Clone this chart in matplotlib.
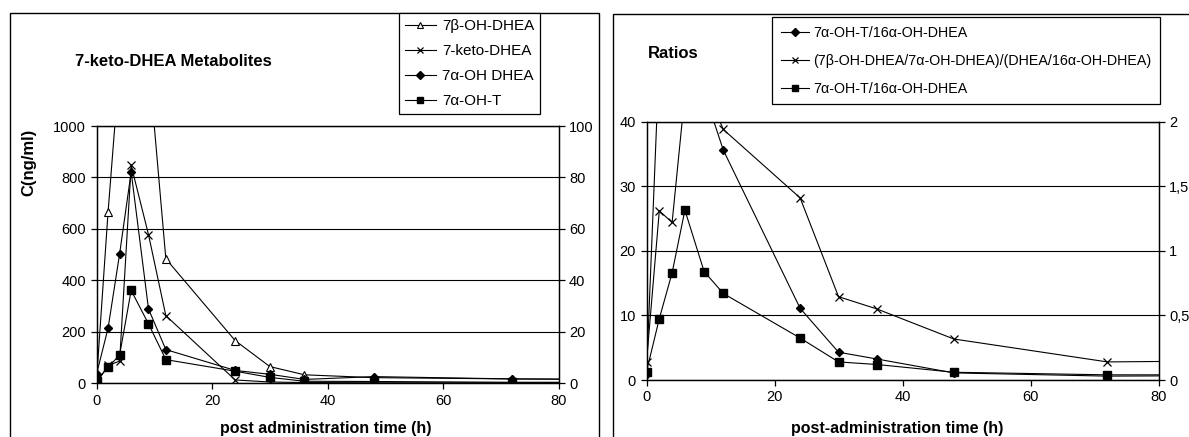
"""
7-keto-DHEA 代谢物浓度与比值随给药后时间的变化（两张Excel风格折线图）。
"""

import matplotlib.pyplot as plt
from matplotlib.patches import Rectangle

plt.rcParams['font.family'] = ['Liberation Sans', 'DejaVu Sans']

# 采样时间 (h)，最后一个点在80h以外，只用来画出延伸到右边界的线段
t = [0, 2, 4, 6, 9, 12, 24, 30, 36, 48, 72, 96]

# 左图：代谢物浓度 C(ng/ml)
b7_oh_dhea = [10, 665, 1238, 1800, 1258, 484, 166, 65, 33, 22, 17, 15]
keto_dhea = [0, 70, 86, 847, 578, 263, 13, 5, 3, 2, 2, 2]
a7_oh_dhea = [35, 214, 503, 821, 289, 131, 50, 35, 15, 26, 17, 14]
a7_oh_t = [10, 62, 110, 361, 231, 92, 47, 23, 8, 7, 4, 4]
left_names = ['7β-OH-DHEA', '7-keto-DHEA', '7α-OH DHEA', '7α-OH-T']

# 右图：比值
ratio_diamond = [1, 50, 80, 100, 44.6, 35.6, 11.1, 4.3, 3.25, 1.1, 0.6, 0.7]
ratio_cross = [2.8, 26.2, 24.4, 44.3, 45.7, 38.8, 28.2, 12.9, 11.0, 6.35, 2.8, 3.0]
ratio_square = [1.3, 9.5, 16.6, 26.3, 16.8, 13.4, 6.5, 2.8, 2.4, 1.2, 0.8, 0.8]
right_names = ['7α-OH-T/16α-OH-DHEA',
               '(7β-OH-DHEA/7α-OH-DHEA)/(DHEA/16α-OH-DHEA)',
               '7α-OH-T/16α-OH-DHEA']
right2_ticks = [0, 0.5, 1, 1.5, 2]
right2_labels = ['0', '0,5', '1', '1,5', '2']

W, H = 1189, 437
fig = plt.figure(figsize=(W / 100, H / 100), dpi=100)


def px(x0, y0, x1, y1):
    # 像素坐标(左上原点) -> figure 坐标 [left, bottom, width, height]
    return [x0 / W, 1 - y1 / H, (x1 - x0) / W, (y1 - y0) / H]


def frame(x0, y0, x1, y1):
    r = Rectangle((x0 / W, 1 - y1 / H), (x1 - x0) / W, (y1 - y0) / H,
                  transform=fig.transFigure, fill=False, lw=1.0,
                  edgecolor='black')
    fig.add_artist(r)


def style(ax):
    for s in ax.spines.values():
        s.set_linewidth(0.9)
        s.set_color('black')
    ax.tick_params(direction='out', length=4, width=0.9, labelsize=10.5,
                   colors='black', pad=3.5)
    ax.grid(axis='y', color='black', lw=0.8)
    ax.set_axisbelow(False)


line_kw = dict(color='black', lw=0.8)

# 两张图的外框
frame(10, 13, 599, 460)
frame(613, 14, 1200, 460)

# 左图
ax1 = fig.add_axes(px(96.5, 126, 558.7, 383.3))
ax1.plot(t, b7_oh_dhea, marker='^', ms=5.5, mfc='white', mec='black',
         mew=0.8, label=left_names[0], **line_kw)
ax1.plot(t, keto_dhea, marker='x', ms=6, mew=0.9, label=left_names[1],
         **line_kw)
ax1.plot(t, a7_oh_dhea, marker='D', ms=4.5, mfc='black', mec='black',
         label=left_names[2], **line_kw)
ax1.plot(t, a7_oh_t, marker='s', ms=5.5, mfc='black', mec='black',
         label=left_names[3], **line_kw)
ax1.set_xlim(0, 80)
ax1.set_ylim(0, 1000)
ax1.set_xticks([0, 20, 40, 60, 80])
ax1.set_yticks([0, 200, 400, 600, 800, 1000])
style(ax1)
ax1b = ax1.twinx()
ax1b.set_ylim(0, 100)
ax1b.set_yticks([0, 20, 40, 60, 80, 100])
style(ax1b)
ax1b.grid(False)

fig.text(75 / W, 1 - 62 / H, '7-keto-DHEA Metabolites', fontsize=12,
         fontweight='bold', va='center', ha='left')
fig.text(29 / W, 1 - 162 / H, 'C(ng/ml)', fontsize=12, fontweight='bold',
         rotation=90, va='center', ha='center')
fig.text(326 / W, 1 - 428 / H, 'post administration time (h)',
         fontsize=11.5, fontweight='bold', va='center', ha='center')

h, l = ax1.get_legend_handles_labels()
leg = fig.legend(h, l, loc='upper left', bbox_to_anchor=(399 / W, 1 - 13 / H),
                 bbox_transform=fig.transFigure, fontsize=11, frameon=True,
                 fancybox=False, edgecolor='black', framealpha=1,
                 borderaxespad=0, borderpad=0.4, handlelength=2.0,
                 handletextpad=0.4, labelspacing=0.72, markerscale=0.8)
leg.get_frame().set_linewidth(0.9)

# 右图
ax2 = fig.add_axes(px(646.5, 121.7, 1158.6, 380))
ax2.plot(t, ratio_diamond, marker='D', ms=4.5, mfc='black', mec='black',
         label=right_names[0], **line_kw)
ax2.plot(t, ratio_cross, marker='x', ms=6, mew=0.9, label=right_names[1],
         **line_kw)
ax2.plot(t, ratio_square, marker='s', ms=5.5, mfc='black', mec='black',
         label=right_names[2], **line_kw)
ax2.set_xlim(0, 80)
ax2.set_ylim(0, 40)
ax2.set_xticks([0, 20, 40, 60, 80])
ax2.set_yticks([0, 10, 20, 30, 40])
style(ax2)
ax2b = ax2.twinx()
ax2b.set_ylim(0, 2)
ax2b.set_yticks(right2_ticks)
ax2b.set_yticklabels(right2_labels)
style(ax2b)
ax2b.grid(False)

fig.text(648 / W, 1 - 53 / H, 'Ratios', fontsize=12, fontweight='bold',
         va='center', ha='left')
fig.text(897 / W, 1 - 428 / H, 'post-administration time (h)',
         fontsize=11.5, fontweight='bold', va='center', ha='center')

h, l = ax2.get_legend_handles_labels()
leg = fig.legend(h, l, loc='upper left', bbox_to_anchor=(772 / W, 1 - 17 / H),
                 bbox_transform=fig.transFigure, fontsize=10.3, frameon=True,
                 fancybox=False, edgecolor='black', framealpha=1,
                 borderaxespad=0, borderpad=0.6, handlelength=2.0,
                 handletextpad=0.3, labelspacing=0.98, markerscale=0.8)
leg.get_frame().set_linewidth(0.9)

fig.savefig('out.png', dpi=100)
